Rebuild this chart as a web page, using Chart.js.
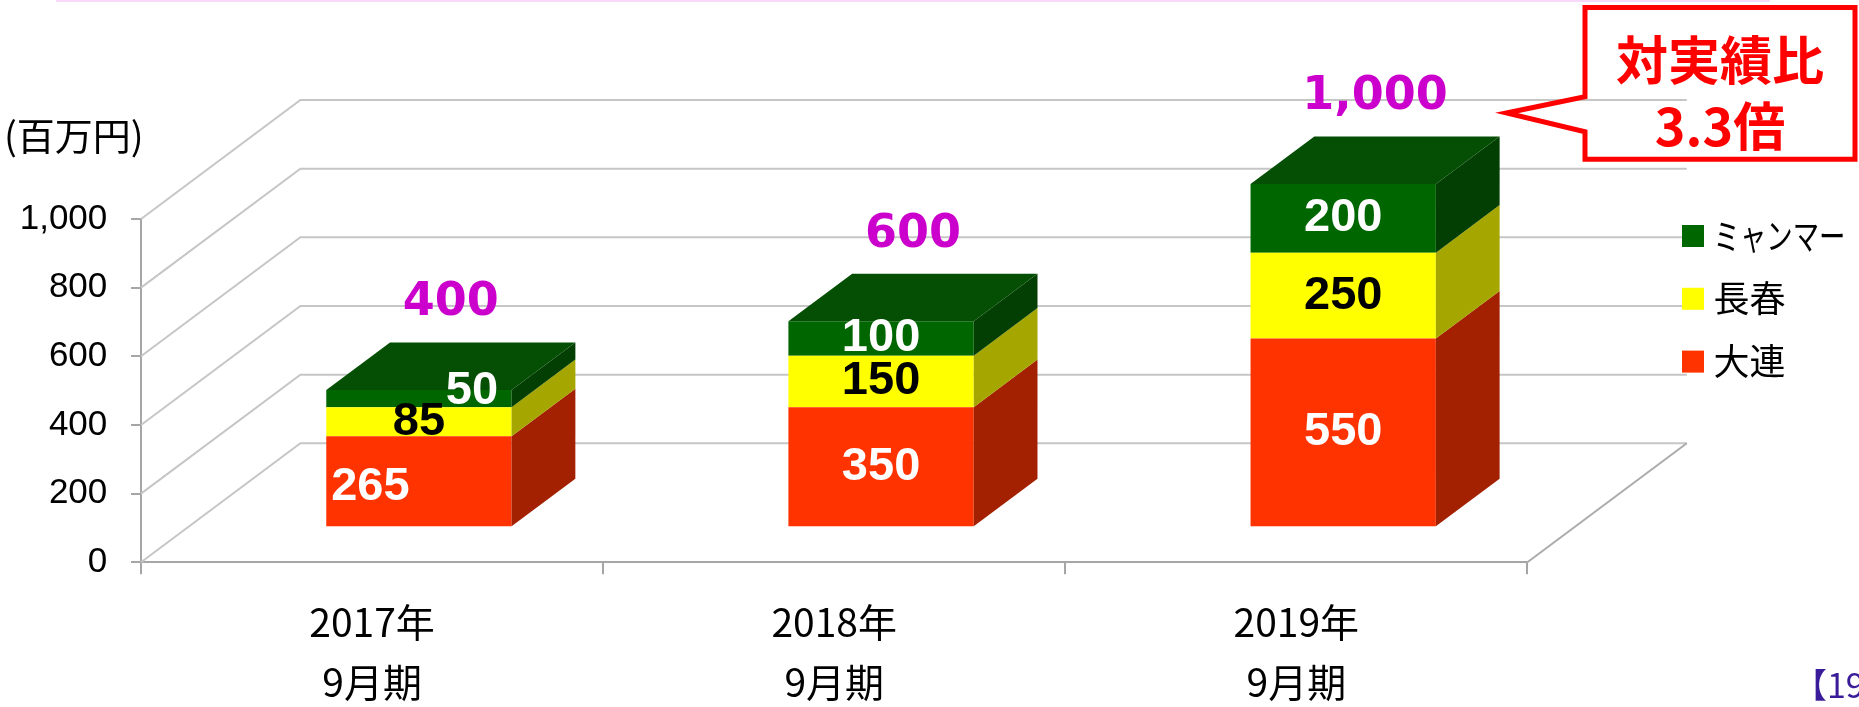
<!DOCTYPE html>
<html lang="ja">
<head>
<meta charset="utf-8">
<title>売上推移</title>
<script src="https://cdn.jsdelivr.net/npm/chart.js@4/dist/chart.umd.min.js"></script>
<style>
  html, body { margin:0; padding:0; background:#fff; }
  #wrap { position:relative; width:1859px; height:707px; }
</style>
</head>
<body>
<div id="wrap"><canvas id="chart"></canvas></div>
<script>
// ── データ ───────────────────────
var categories = [['2017年', '9月期'], ['2018年', '9月期'], ['2019年', '9月期']];
var dalian     = [265, 350, 550];
var changchun  = [85, 150, 250];
var myanmar    = [50, 100, 200];
var yMin = 0, yMax = 1000, yStep = 200;

var JP   = '"Noto Sans CJK JP", sans-serif';
var SANS = '"Liberation Sans", Arial, sans-serif';
var VERD = '"DejaVu Sans", Verdana, sans-serif';

// 床の奥行きベクトル / 棒の前面位置と厚み（奥行きに対する割合）
var DEPTH = { dx: 159.4, dy: -119, front: 0.294, thick: 0.4 };

function quad(ctx, pts, color) {
  ctx.beginPath();
  ctx.moveTo(pts[0][0], pts[0][1]);
  for (var i = 1; i < pts.length; i++) ctx.lineTo(pts[i][0], pts[i][1]);
  ctx.closePath();
  ctx.fillStyle = color;
  ctx.fill();
}

// 擬似3Dの壁・棒の側面・ラベル類
var box3d = {
  id: 'box3d',
  beforeDraw: function(chart) {
    var ctx = chart.ctx;
    ctx.save();
    ctx.strokeStyle = '#F8DAF8'; ctx.lineWidth = 2;
    ctx.beginPath(); ctx.moveTo(56, 1); ctx.lineTo(1770, 1); ctx.stroke();
    ctx.restore();
  },
  beforeDatasetsDraw: function(chart) {
    var ctx = chart.ctx, a = chart.chartArea, ys = chart.scales.y;
    ctx.save();
    ctx.lineWidth = 2;
    ctx.strokeStyle = '#C6C6C6';
    ys.ticks.forEach(function(t) {
      var py = ys.getPixelForValue(t.value);
      ctx.beginPath();
      ctx.moveTo(a.left, py);
      ctx.lineTo(a.left + DEPTH.dx, py + DEPTH.dy);
      ctx.lineTo(a.right + DEPTH.dx, py + DEPTH.dy);
      ctx.stroke();
    });
    ctx.strokeStyle = '#ABABAB';
    ctx.beginPath();
    ctx.moveTo(a.right, a.bottom);
    ctx.lineTo(a.right + DEPTH.dx, a.bottom + DEPTH.dy);
    ctx.stroke();
    ctx.restore();
    // 棒の前面は奥へずらして描く
    ctx.save();
    ctx.translate(DEPTH.dx * DEPTH.front, DEPTH.dy * DEPTH.front);
  },
  afterDatasetsDraw: function(chart, args, opts) {
    var ctx = chart.ctx;
    ctx.restore();

    var fx = DEPTH.dx * DEPTH.front, fy = DEPTH.dy * DEPTH.front;
    var bx = DEPTH.dx * DEPTH.thick, by = DEPTH.dy * DEPTH.thick;
    var sets = chart.data.datasets;
    var faces = [];
    var tops = [];

    ctx.save();
    sets.forEach(function(ds, i) {
      chart.getDatasetMeta(i).data.forEach(function(bar, j) {
        var p = bar.getProps(['x', 'y', 'base', 'width'], true);
        var l = p.x - p.width / 2 + fx, r = p.x + p.width / 2 + fx;
        var t = Math.min(p.y, p.base) + fy, b = Math.max(p.y, p.base) + fy;
        quad(ctx, [[r, t], [r + bx, t + by], [r + bx, b + by], [r, b]], ds.sideColor);
        if (i === sets.length - 1) {
          quad(ctx, [[l, t], [l + bx, t + by], [r + bx, t + by], [r, t]], ds.topColor);
          tops[j] = { x: (l + r) / 2 + bx / 2, y: t + by };
        }
        faces.push({ ds: ds, i: i, j: j, x: (l + r) / 2, y: (t + b) / 2 });
      });
    });

    // 系列ラベル
    ctx.font = 'bold 47px ' + SANS;
    ctx.textAlign = 'center';
    ctx.textBaseline = 'middle';
    faces.forEach(function(f) {
      var nudge = opts.labelNudge[f.i + '-' + f.j] || [0, 0];
      ctx.fillStyle = f.ds.labelColor;
      ctx.fillText(String(f.ds.data[f.j]), f.x + nudge[0], f.y + nudge[1]);
    });

    // 合計
    ctx.font = 'bold 46px ' + VERD;
    ctx.fillStyle = '#CC00CC';
    ctx.textBaseline = 'alphabetic';
    tops.forEach(function(tp, j) {
      var sum = 0;
      sets.forEach(function(ds) { sum += ds.data[j]; });
      ctx.fillText(sum.toLocaleString('en-US'), tp.x, tp.y - 27);
    });
    ctx.restore();
  },
  afterDraw: function(chart, args, opts) {
    var ctx = chart.ctx, sets = chart.data.datasets, lg = opts.legend;
    ctx.save();

    // 凡例（積み上げ順の逆）
    ctx.font = '36px ' + JP;
    ctx.textAlign = 'left';
    ctx.textBaseline = 'middle';
    for (var k = 0; k < sets.length; k++) {
      var ds = sets[sets.length - 1 - k];
      var cy = lg.y + k * lg.gap;
      ctx.fillStyle = ds.backgroundColor;
      ctx.fillRect(lg.x, cy - 11, 22, 22);
      ctx.fillStyle = '#000';
      ctx.fillText(ds.label, lg.x + 31.5, cy, 132);
    }

    // 吹き出し
    ctx.strokeStyle = '#FF0000';
    ctx.lineWidth = 5;
    ctx.lineJoin = 'miter';
    ctx.beginPath();
    ctx.moveTo(1585, 96.7);
    ctx.lineTo(1585, 7.5);
    ctx.lineTo(1855, 7.5);
    ctx.lineTo(1855, 159.3);
    ctx.lineTo(1585, 159.3);
    ctx.lineTo(1585, 131.7);
    ctx.lineTo(1506.5, 113);
    ctx.closePath();
    ctx.stroke();
    ctx.fillStyle = '#FF0000';
    ctx.font = 'bold 52px ' + JP;
    ctx.textAlign = 'center';
    ctx.fillText('対実績比', 1720, 60);
    ctx.fillText('3.3倍', 1720, 126);

    // ページ番号（右端で切れている）
    ctx.fillStyle = '#3A1C9A';
    ctx.font = '34px ' + JP;
    ctx.textAlign = 'left';
    ctx.fillText('【19', 1793, 685);
    ctx.restore();
  }
};

Chart.defaults.font.family = SANS;
Chart.defaults.color = '#000';

new Chart(document.getElementById('chart').getContext('2d'), {
  type: 'bar',
  data: {
    labels: categories,
    datasets: [
      { label: '大連',       data: dalian,    backgroundColor: '#FF3300', sideColor: '#A32100', topColor: '#C42800', labelColor: '#FFFFFF' },
      { label: '長春',       data: changchun, backgroundColor: '#FFFF00', sideColor: '#A6A600', topColor: '#CCCC00', labelColor: '#000000' },
      { label: 'ミャンマー', data: myanmar,   backgroundColor: '#006600', sideColor: '#033F03', topColor: '#044F04', labelColor: '#FFFFFF' }
    ]
  },
  options: {
    responsive: true, maintainAspectRatio: false,
    animation: false,
    events: [],
    layout: { padding: { left: 4, right: 331.6, top: 0, bottom: 0 } },
    datasets: { bar: { categoryPercentage: 1, barPercentage: 0.401, borderWidth: 0 } },
    plugins: {
      legend: { display: false },
      tooltip: { enabled: false },
      title: {
        display: true, text: '(百万円)', align: 'start', position: 'top', color: '#000',
        font: { family: JP, size: 38, weight: 'normal' },
        padding: { top: 113.2, bottom: 60.2 }
      },
      box3d: {
        labelNudge: { '0-0': [-48.5, 5.4], '2-0': [53, -7.3] },
        legend: { x: 1682, y: 236, gap: 62.8 }
      }
    },
    scales: {
      x: {
        stacked: true,
        grid: { drawOnChartArea: false, offset: true, tickLength: 12, color: '#A6A6A6', lineWidth: 2 },
        border: { color: '#A6A6A6', width: 2 },
        ticks: { autoSkip: false, maxRotation: 0, padding: 18, color: '#000', font: { family: JP, size: 39, lineHeight: 1.54 } },
        afterFit: function(s) { s.height = 144.7; }
      },
      y: {
        stacked: true, min: yMin, max: yMax,
        grid: { drawOnChartArea: false, tickLength: 10, color: '#A6A6A6', lineWidth: 2 },
        border: { color: '#A6A6A6', width: 2 },
        ticks: {
          stepSize: yStep, padding: 23.7, color: '#000', font: { family: SANS, size: 35 },
          callback: function(v) { return v.toLocaleString('en-US'); }
        },
        afterFit: function(s) { s.width = 137; }
      }
    }
  },
  plugins: [box3d]
});
</script>
</body>
</html>
